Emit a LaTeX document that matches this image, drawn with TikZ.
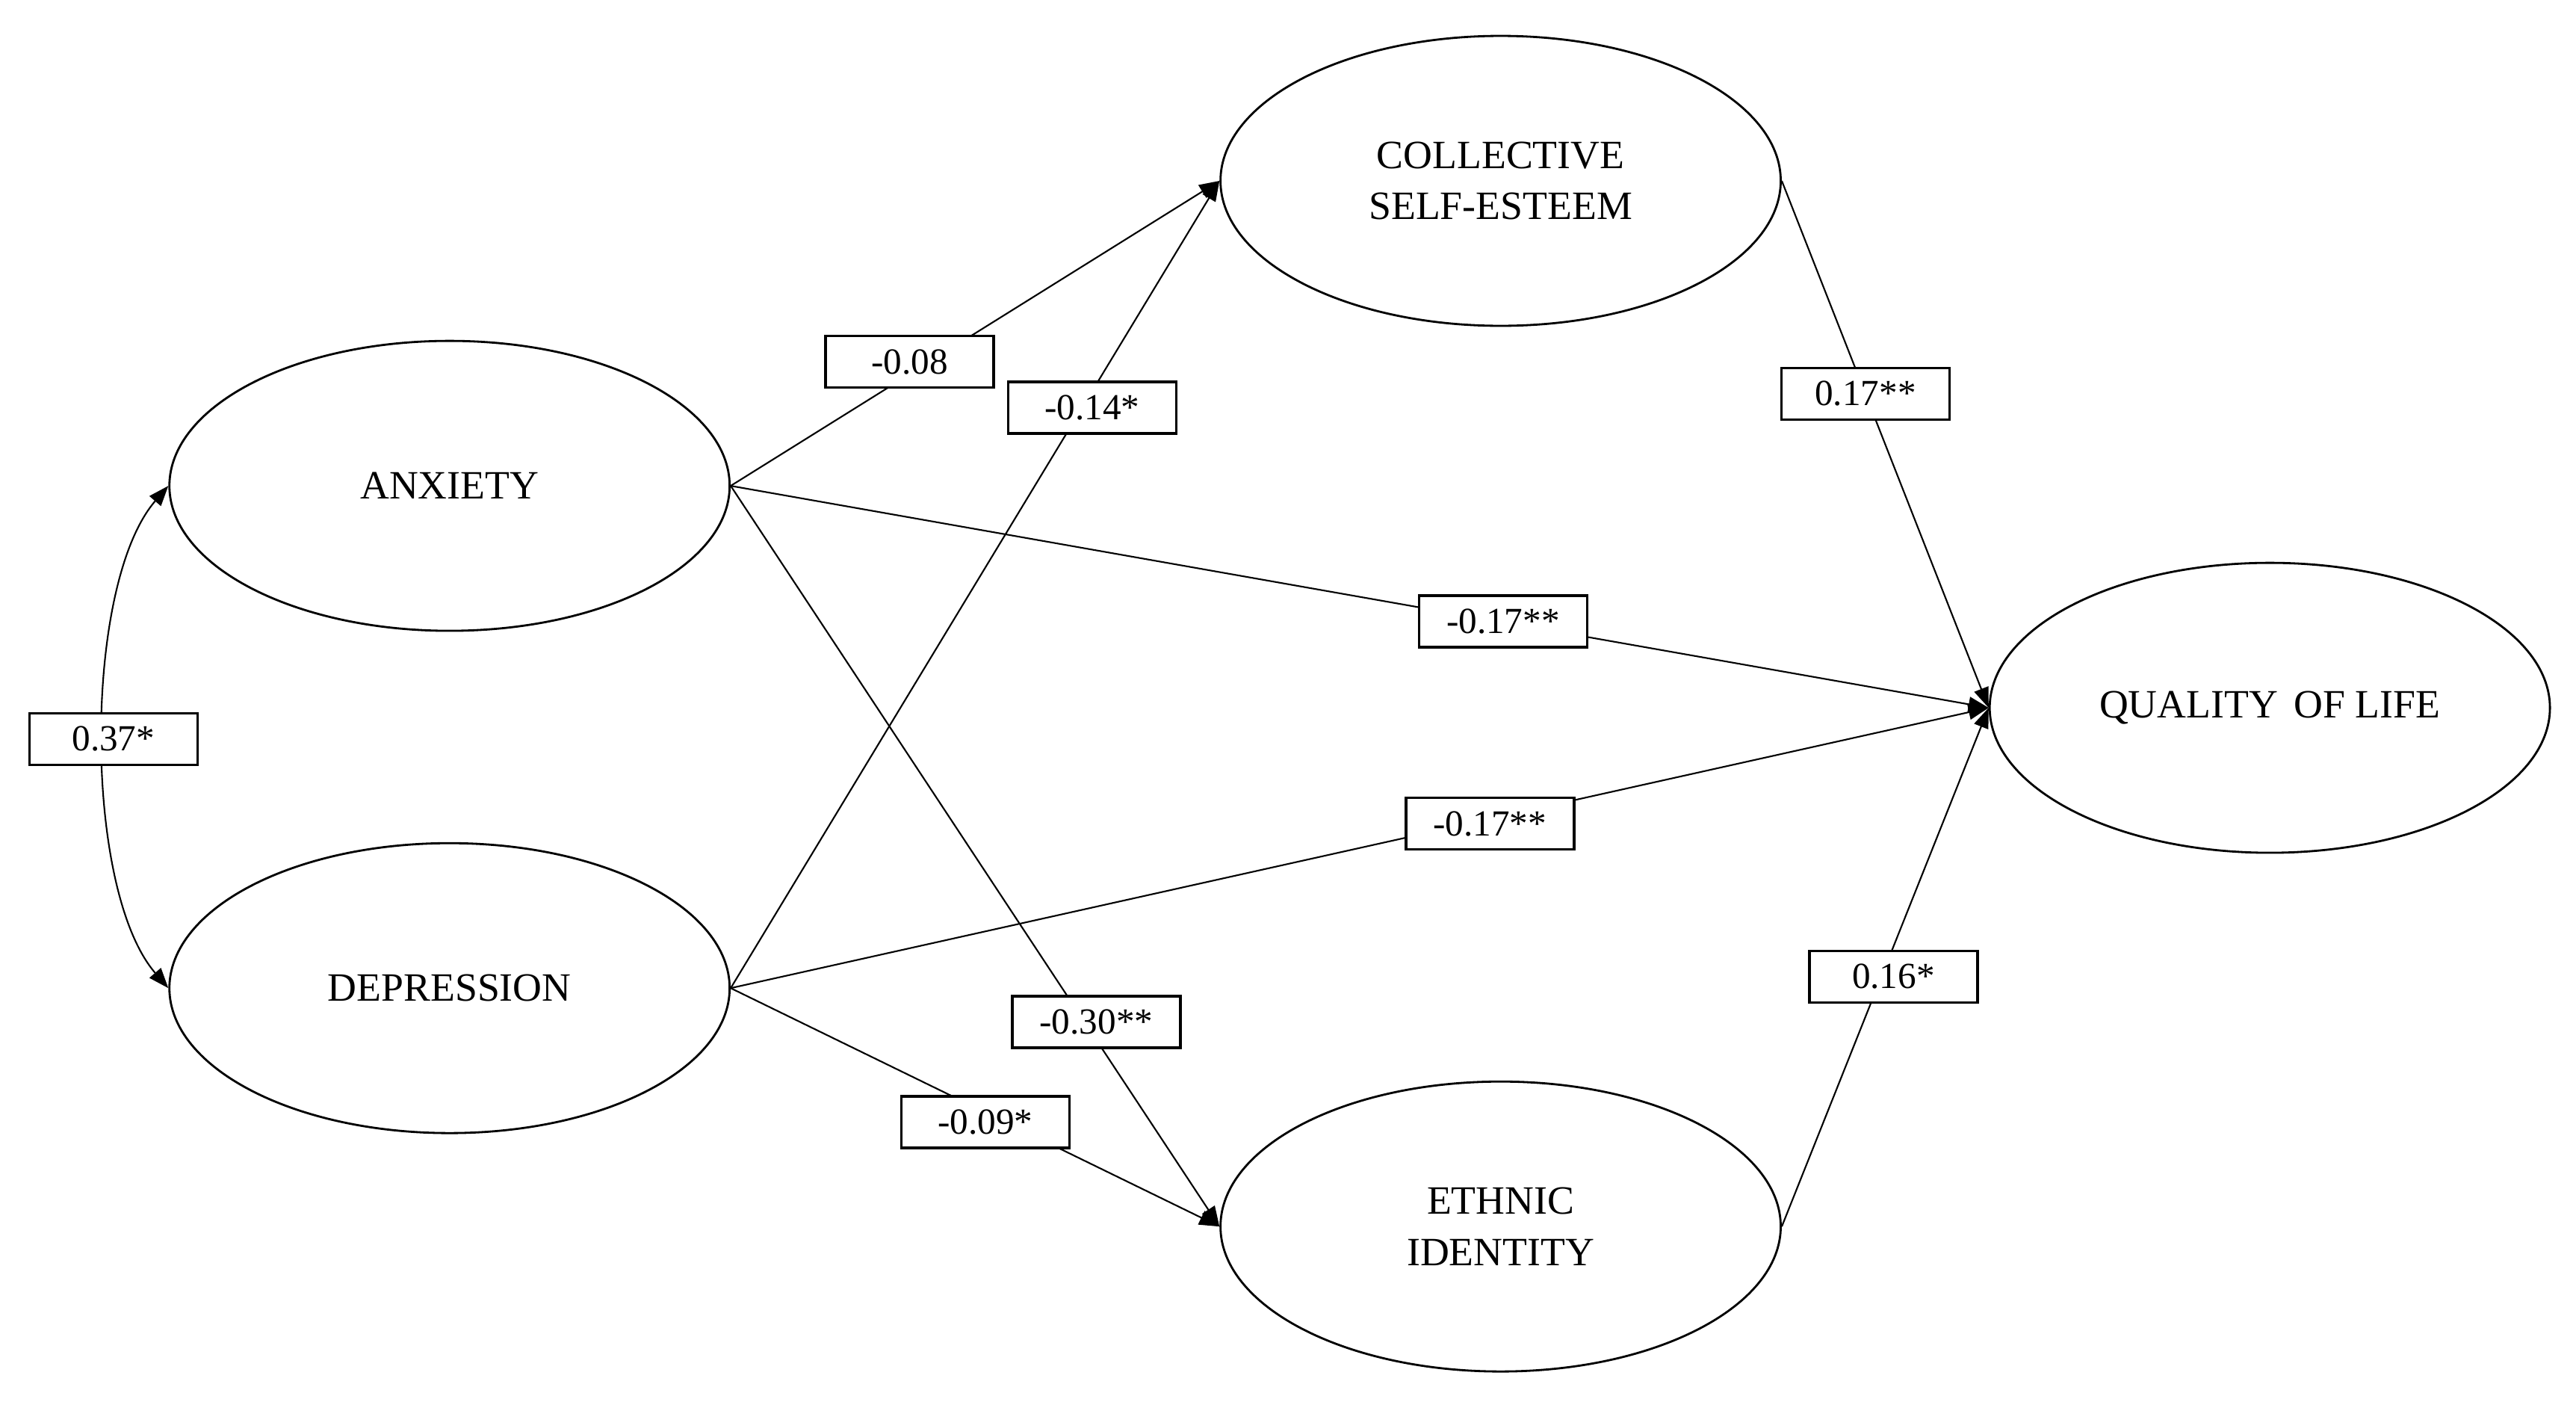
\documentclass[tikz,border=0pt]{standalone}
\usepackage{fontspec}
\setmainfont{Liberation Serif}
\usetikzlibrary{shapes.geometric,arrows.meta}
\begin{document}
\begin{tikzpicture}[x=0.022cm,y=-0.022cm,
  latent/.style={ellipse,draw=black,line width=0.8pt,minimum width=7.5cm,minimum height=3.88cm,inner sep=0pt,align=center,font=\fontsize{15.3}{19.4}\selectfont},
  coef/.style={rectangle,draw=black,fill=white,line width=1pt,minimum width=2.25cm,minimum height=0.69cm,inner sep=0pt,font=\fontsize{14}{16}\selectfont},
  path/.style={draw=black,line width=0.6pt,-{Triangle[length=0.27cm,width=0.2cm]}},
  covar/.style={draw=black,line width=0.6pt,{Triangle[length=0.27cm,width=0.2cm]}-{Triangle[length=0.27cm,width=0.2cm]}}]
\useasboundingbox (0,0) rectangle (1567.3,852.3);
\fill[white] (0,0) rectangle (1567.3,852.3);
% latent variables
\node[latent] (anx) at (273.5,295.5) {ANXIETY};
\node[latent] (dep) at (273.5,601) {DEPRESSION};
\node[latent] (cse) at (913,110) {COLLECTIVE\\SELF-ESTEEM};
\node[latent] (ei) at (913,746) {ETHNIC\\IDENTITY};
\node[latent] (qol) at (1381,430.5) {QUALITY\hspace{0.15em} OF LIFE};
% paths
\draw[path] (anx.east) -- (cse.west);
\draw[path] (dep.east) -- (cse.west);
\draw[path] (anx.east) -- (ei.west);
\draw[path] (dep.east) -- (ei.west);
\draw[path] (anx.east) -- (qol.west);
\draw[path] (dep.east) -- (qol.west);
\draw[path] (cse.east) -- (qol.west);
\draw[path] (ei.east) -- (qol.west);
\draw[covar] (anx.west) .. controls +(-52,60) and +(-52,-60) .. (dep.west);
% coefficients
\node[coef] (c1) at (69,449.5) {0.37*};
\node[coef] (c2) at (553.5,220) {-0.08};
\node[coef] (c3) at (664.5,248) {-0.14*};
\node[coef] (c4) at (1135,239.5) {0.17**};
\node[coef] (c5) at (914.5,378) {-0.17**};
\node[coef] (c6) at (906.5,501) {-0.17**};
\node[coef] (c7) at (1152,594) {0.16*};
\node[coef] (c8) at (667,621.5) {-0.30**};
\node[coef] (c9) at (599.5,682.5) {-0.09*};
\end{tikzpicture}
\end{document}
